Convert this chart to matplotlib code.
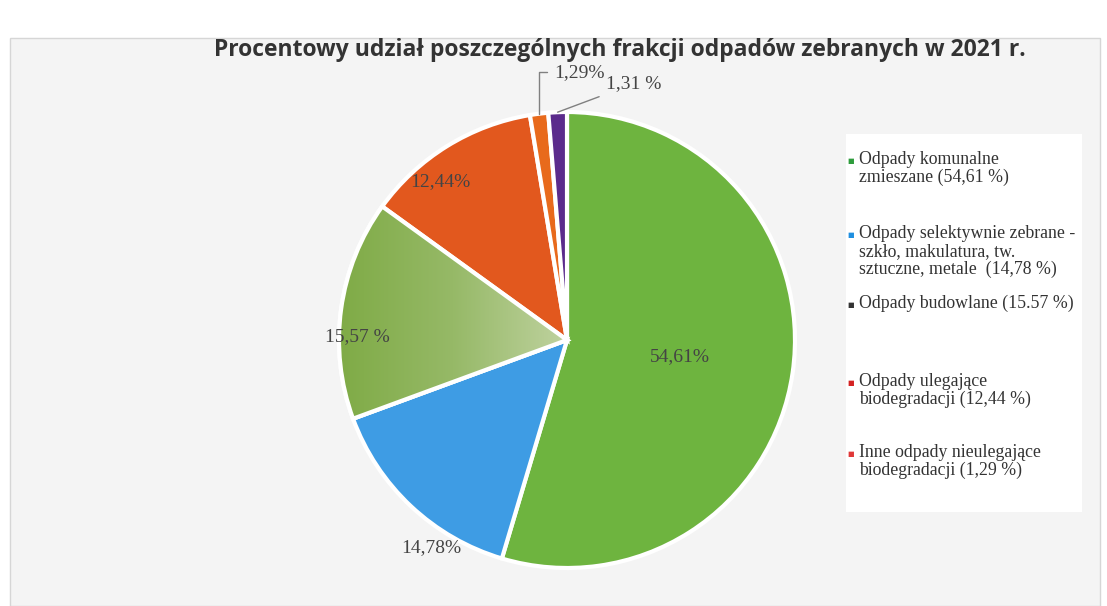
import numpy as np
import matplotlib
matplotlib.use("Agg")
import matplotlib.pyplot as plt
from matplotlib.patches import Rectangle, Wedge
from matplotlib.colors import LinearSegmentedColormap

# ---- data ----
title = "Procentowy udział poszczególnych frakcji odpadów zebranych w 2021 r."
categories = [
    "Odpady komunalne\nzmieszane (54,61 %)",
    "Odpady selektywnie zebrane -\nszkło, makulatura, tw.\nsztuczne, metale  (14,78 %)",
    "Odpady budowlane (15.57 %)",
    "Odpady ulegające\nbiodegradacji (12,44 %)",
    "Inne odpady nieulegające\nbiodegradacji (1,29 %)",
]
values = [54.61, 14.78, 15.57, 12.44, 1.29, 1.31]
pct_labels = ["54,61%", "14,78%", "15,57 %", "12,44%", "1,29%", "1,31 %"]

# ---- style ----
slice_colors = ["#6eb43f", "#3e9ce4", "#8fb257", "#e2581e", "#e86a1c", "#5b2b8c"]
legend_marker_colors = ["#2e9c3c", "#1f8fe0", "#333333", "#d42222", "#e03838"]
label_style = [(0, 0.50), (10, 1.09), (7, 0.92), (7, 0.89), (None, (87.3, 1.175)), (None, (75.5, 1.16))]

W, H = 1107, 606
fig = plt.figure(figsize=(W / 100, H / 100), dpi=100)
fig.patch.set_facecolor("white")

# chart background panel
fig.patches.append(Rectangle((10 / W, 0), 1090 / W, 1 - 38 / H, transform=fig.transFigure,
                             facecolor="#f4f4f4", edgecolor="#d6d6d6", lw=1, zorder=-5))

cx, cy, R = 567, 340, 228
lim = 1.1
size = 2 * lim * R
ax = fig.add_axes([(cx - size / 2) / W, (H - cy - size / 2) / H, size / W, size / H])
ax.set_zorder(2)
ax.patch.set_visible(False)

wedges, _ = ax.pie(values, colors=slice_colors, startangle=90, counterclock=False,
                   radius=1.0, wedgeprops=dict(edgecolor="white", linewidth=3))
ax.set_xlim(-lim, lim)
ax.set_ylim(-lim, lim)
ax.set_aspect("equal")
ax.axis("off")

# gradient fill of the "budowlane" slice (darker outside, paler toward the centre)
grad_cmap = LinearSegmentedColormap.from_list("olive", ["#7fab46", "#96b967", "#bfd29f"])
gx = np.linspace(0, 1, 256)[None, :]
img = ax.imshow(gx, extent=(-1.0, 0.0, -0.7, 0.7), cmap=grad_cmap, aspect="auto",
                zorder=wedges[2].get_zorder() + 0.1, interpolation="bilinear")
img.set_clip_path(wedges[2])
w2 = wedges[2]
ax.add_patch(Wedge(w2.center, w2.r, w2.theta1, w2.theta2, facecolor="none",
                   edgecolor="white", lw=3, zorder=w2.get_zorder() + 0.2))

serif = ["Liberation Serif", "DejaVu Serif"]
for i, (w, lab) in enumerate(zip(wedges, pct_labels)):
    mid = (w.theta1 + w.theta2) / 2
    off, r = label_style[i]
    if off is None:
        ang, rr = r
        tx, ty = rr * np.cos(np.radians(ang)), rr * np.sin(np.radians(ang))
        px, py = np.cos(np.radians(mid)), np.sin(np.radians(mid))
        cs = "angle,angleA=0,angleB=90,rad=0" if i == 4 else "arc3,rad=0"
        ax.annotate(lab, xy=(px, py), xytext=(tx, ty), ha="center", va="center",
                    fontsize=14, family=serif, color="#444444",
                    arrowprops=dict(arrowstyle="-", color="#808080", lw=1,
                                    connectionstyle=cs, shrinkA=3, shrinkB=0),
                    annotation_clip=False, zorder=5)
    else:
        ang = np.radians(mid + off)
        ax.text(r * np.cos(ang), r * np.sin(ang), lab, ha="center", va="center",
                fontsize=14, family=serif, color="#444444", clip_on=False, zorder=5)

# title
fig.text(620 / W, 1 - 50 / H, title, ha="center", va="center", fontsize=16.5,
         fontweight="bold", family=["Open Sans", "DejaVu Sans"], color="#333333")

# legend (drawn manually to match uneven spacing)
fig.patches.append(Rectangle((846 / W, 1 - 512 / H), 236 / W, 378 / H, transform=fig.transFigure,
                             facecolor="white", edgecolor="none", zorder=1))
legend_y = [161, 235, 305, 383, 454]
for lab, col, y in zip(categories, legend_marker_colors, legend_y):
    fig.text(851 / W, 1 - y / H, "■", ha="center", va="center", fontsize=5, color=col, zorder=3)
    fig.text(859 / W, 1 - (y - 10) / H, lab, ha="left", va="top", fontsize=12.8,
             family=serif, color="#333333", linespacing=1.05, zorder=3)

fig.savefig("out.png", dpi=100, facecolor=fig.get_facecolor())
